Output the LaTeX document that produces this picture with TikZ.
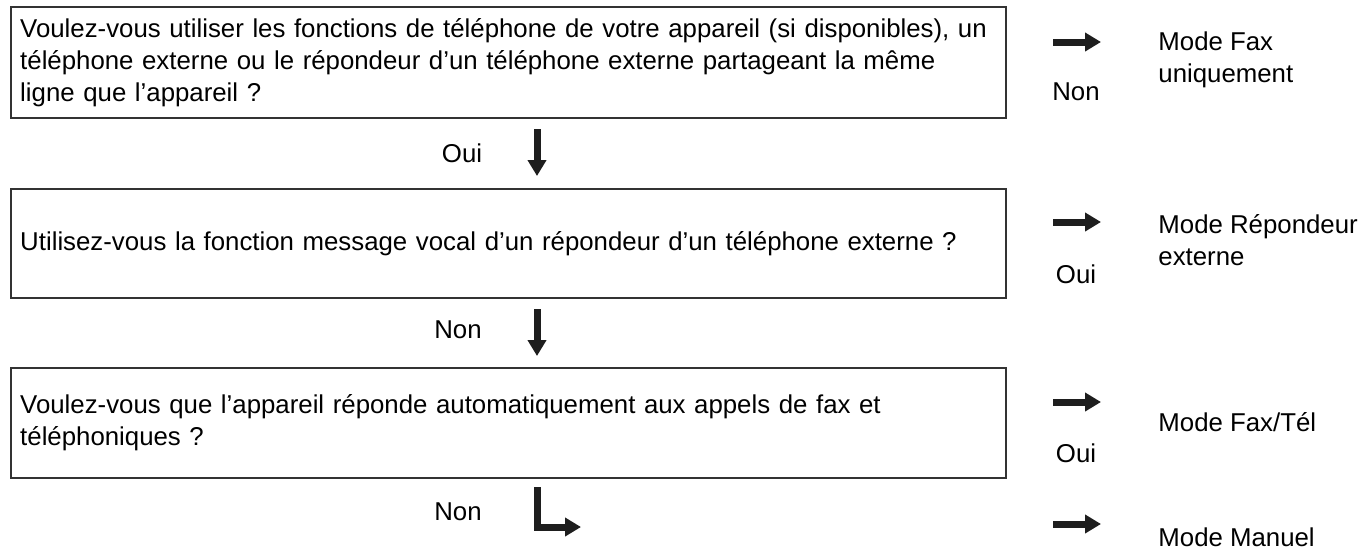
\documentclass[tikz,border=0pt]{standalone}
\usepackage{fontspec}
\setmainfont{Liberation Sans}
\usetikzlibrary{arrows.meta}
\definecolor{ink}{HTML}{1E1E1E}
\definecolor{boxline}{HTML}{333333}
\begin{document}
\begin{tikzpicture}[x=0.5pt,y=-0.5pt,
  every node/.style={font=\fontsize{12.9}{16}\selectfont, text=black},
  qbox/.style={draw=boxline, line width=0.75pt, anchor=north west,
    minimum width=497.5pt, text width=488pt, inner xsep=4.75pt, inner ysep=0pt, align=left},
  lbl/.style={inner sep=0pt},
  mode/.style={anchor=west, align=left, inner sep=0pt},
  fat/.style={draw=ink, line width=3.5pt, line join=miter,
    -{Triangle[width=9pt,length=8pt]}}
]
\useasboundingbox (0,0) rectangle (1365,553);

% question boxes
\node[qbox, minimum height=55.5pt] (q1) at (10,6)
  {Voulez-vous utiliser les fonctions de téléphone de votre appareil (si disponibles), un\\
   téléphone externe ou le répondeur d’un téléphone externe partageant la même\\
   ligne que l’appareil ?};
\node[qbox, minimum height=54.5pt] (q2) at (10,188)
  {Utilisez-vous la fonction message vocal d’un répondeur d’un téléphone externe ?};
\node[qbox, minimum height=55pt] (q3) at (10,367)
  {Voulez-vous que l’appareil réponde automatiquement aux appels de fax et\\
   téléphoniques ?};

% down arrows
\coordinate (d1s) at (537,129);
\coordinate (d1e) at (537,176);
\draw[fat] (d1s) -- (d1e);
\node[lbl] (oui1) at (462,153) {Oui};

\coordinate (d2s) at (537,309);
\coordinate (d2e) at (537,356);
\draw[fat] (d2s) -- (d2e);
\node[lbl] (non2) at (458,330) {Non};

\coordinate (d3s) at (537.5,487);
\coordinate (d3c) at (537.5,527);
\coordinate (d3e) at (581,527);
\draw[fat] (d3s) -- (d3c) -- (d3e);
\node[lbl] (non3) at (458,512) {Non};

% right arrows
\coordinate (r1s) at (1053,42);
\coordinate (r1e) at (1101,42);
\draw[fat] (r1s) -- (r1e);
\node[lbl] (non1) at (1076,92) {Non};
\node[mode] (m1) at (1158,60) {Mode Fax\\uniquement};

\coordinate (r2s) at (1053,222);
\coordinate (r2e) at (1101,222);
\draw[fat] (r2s) -- (r2e);
\node[lbl] (oui2) at (1076,274) {Oui};
\node[mode] (m2) at (1158,240) {Mode Répondeur\\externe};

\coordinate (r3s) at (1053,402);
\coordinate (r3e) at (1101,402);
\draw[fat] (r3s) -- (r3e);
\node[lbl] (oui3) at (1076,453) {Oui};
\node[mode] (m3) at (1158,422) {Mode Fax/Tél};

\coordinate (r4s) at (1053,524);
\coordinate (r4e) at (1101,524);
\draw[fat] (r4s) -- (r4e);
\node[mode] (m4) at (1158,537) {Mode Manuel};
\end{tikzpicture}
\end{document}
